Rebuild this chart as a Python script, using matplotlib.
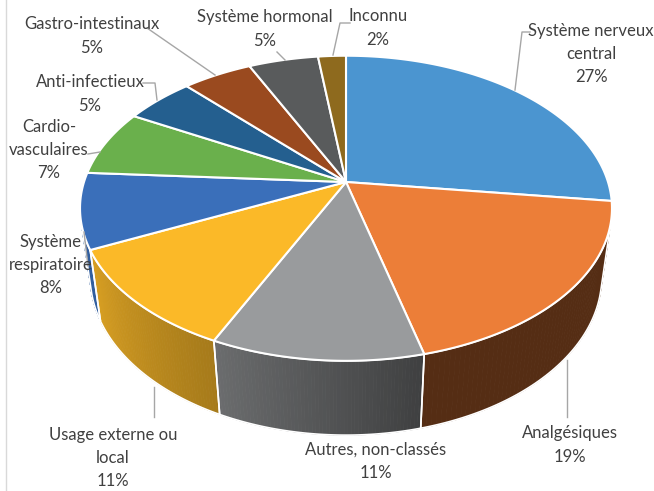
import numpy as np
import matplotlib.pyplot as plt
from matplotlib.patches import Polygon
from matplotlib.colors import to_rgb

plt.rcParams['font.family'] = ['Lato', 'DejaVu Sans']

# -------------------- DATA --------------------
categories = ["Système nerveux\ncentral", "Analgésiques", "Autres, non-classés",
              "Usage externe ou\nlocal", "Système\nrespiratoire", "Cardio-\nvasculaires",
              "Anti-infectieux", "Gastro-intestinaux", "Système hormonal", "Inconnu"]
values = [27, 19, 11, 11, 8, 7, 5, 5, 5, 2]

# -------------------- STYLE --------------------
top_colors = ["#4b95d0", "#ec7e38", "#999b9d", "#fbb928", "#3a6fba",
              "#6ab04c", "#245f8f", "#9a4a1f", "#595b5c", "#8e6a1e"]
# wall shading (at start angle, at end angle) of each slice
wall_shade = [(0.36, 0.36), (0.36, 0.36), (0.41, 0.70), (0.66, 0.86), (0.85, 0.85),
              (0.8, 0.8), (0.8, 0.8), (0.8, 0.8), (0.8, 0.8), (0.8, 0.8)]
# label block centres and leader lines (pixel layout)
label_pos = [(591, 54), (570, 445), (376, 461), (113, 458), (51, 265),
             (49, 150), (90, 94), (92, 36), (265, 29), (378, 28)]
leaders = [[(530, 32), (522, 32), (515, 90)],
           [(567, 417), (567, 360)],
           None,
           [(154, 417), (154, 387)],
           [(88, 266), (84, 232)],
           [(88, 154), (100, 152)],
           [(143, 83), (155, 83), (157, 100)],
           [(147, 28), (215, 75)],
           [(277, 52), (285, 60)],
           [(350, 23), (340, 23), (333, 55)]]

W, H = 654, 491
CX, CY = 346, 182          # pie apex on screen
TILT = np.radians(34.4)
DIST = 4.79
FOCAL = 1255
THICK = 0.33


def proj(phi, z):
    X, Y = np.cos(phi), np.sin(phi)
    v = Y * np.sin(TILT) + z * np.cos(TILT)
    w = DIST + Y * np.cos(TILT) - z * np.sin(TILT)
    return np.column_stack([CX + FOCAL * X / w, CY - FOCAL * v / w])


fig = plt.figure(figsize=(W / 100, H / 100), dpi=100)
ax = fig.add_axes([0, 0, 1, 1])
ax.set_xlim(0, W)
ax.set_ylim(H, 0)
ax.axis("off")

cum = np.concatenate([[0], np.cumsum(values)]) / np.sum(values)
starts = np.radians(90 - 360 * cum[:-1])
ends = np.radians(90 - 360 * cum[1:])

# visible part of the outer wall
lim = np.arcsin(-1 / (DIST * np.cos(TILT)))
vis_hi, vis_lo = lim, -np.pi - lim

for i, (a0, a1) in enumerate(zip(starts, ends)):
    hi, lo = min(a0, vis_hi), max(a1, vis_lo)
    if hi <= lo:
        continue
    base = np.array(to_rgb(top_colors[i]))
    phis = np.linspace(hi, lo, 60)
    for p, q in zip(phis[:-1], phis[1:]):
        t = ((a0 - (p + q) / 2) / (a0 - a1))
        s = wall_shade[i][0] + (wall_shade[i][1] - wall_shade[i][0]) * t
        c = np.clip(base * s, 0, 1)
        quad = np.vstack([proj(np.array([p, q]), 0), proj(np.array([q, p]), -THICK)])
        ax.add_patch(Polygon(quad, closed=True, facecolor=c, edgecolor=c, lw=0.6, zorder=1))
    outline = np.vstack([proj(phis, 0), proj(phis[::-1], -THICK)])
    ax.add_patch(Polygon(outline, closed=True, fill=False, edgecolor="white", lw=1.2, zorder=2))

for i, (a0, a1) in enumerate(zip(starts, ends)):
    arc = proj(np.linspace(a0, a1, 120), 0)
    pts = np.vstack([[CX, CY], arc])
    ax.add_patch(Polygon(pts, closed=True, facecolor=top_colors[i], edgecolor="white",
                         lw=1.5, joinstyle="round", zorder=3))

for i, name in enumerate(categories):
    x, y = label_pos[i]
    ax.text(x, y, f"{name}\n{values[i]}%", ha="center", va="center", fontsize=12,
            color="#404040", linespacing=1.55, zorder=5)
    if leaders[i] is not None:
        xs, ys = zip(*leaders[i])
        ax.plot(xs, ys, color="#a6a6a6", lw=1, zorder=4)

# left frame edge
ax.plot([6, 6], [0, H], color="#d9d9d9", lw=1)

fig.savefig("out.png", dpi=100, facecolor="white")
